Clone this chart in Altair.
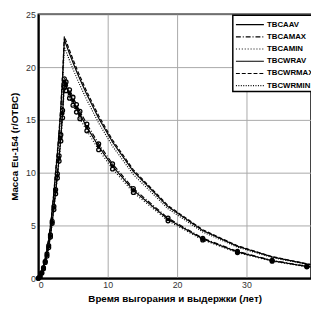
import altair as alt
import pandas as pd

times = [0, 0.25, 0.5, 0.75, 1.0, 1.25, 1.5, 1.75, 2.0, 2.25, 2.5, 2.75, 3.0, 3.25, 3.5, 3.75,
         4.0, 4.5, 5.0, 5.5, 6.0, 7.0, 8.7, 10.7, 13.7, 18.7, 23.7, 28.7, 33.7, 38.7, 39.2]

tbcaav = [0, 0.16, 0.5, 1.0, 1.6, 2.2, 3.0, 4.0, 5.3, 6.7, 8.2, 9.7, 11.4, 13.3, 15.6, 18.6,
          18.23, 17.50, 16.81, 16.14, 15.51, 14.32, 12.48, 10.62, 8.33, 5.58, 3.72, 2.49, 1.66, 1.11, 1.07]
tbcamax = [0, 0.16, 0.5, 1.0, 1.6, 2.3, 3.1, 4.1, 5.4, 6.8, 8.4, 9.9, 11.6, 13.6, 15.9, 18.9,
           18.6, 17.85, 17.15, 16.46, 15.82, 14.61, 12.73, 10.83, 8.50, 5.69, 3.79, 2.54, 1.69, 1.13, 1.09]
tbcamin = [0, 0.15, 0.5, 0.9, 1.5, 2.1, 2.9, 3.9, 5.2, 6.5, 8.0, 9.5, 11.1, 13.0, 15.2, 18.1,
           17.77, 17.06, 16.39, 15.74, 15.12, 13.96, 12.17, 10.35, 8.12, 5.44, 3.63, 2.43, 1.62, 1.08, 1.04]
tbcwrav = [0, 0.2, 0.6, 1.2, 1.9, 2.7, 3.7, 4.9, 6.4, 8.1, 10.0, 11.8, 13.8, 16.1, 19.0, 22.6,
           22.15, 21.27, 20.43, 19.62, 18.85, 17.40, 15.16, 12.90, 10.12, 6.78, 4.52, 3.03, 2.02, 1.35, 1.30]
tbcwrmax = [0, 0.2, 0.6, 1.2, 1.9, 2.8, 3.8, 5.0, 6.5, 8.2, 10.2, 12.0, 14.0, 16.4, 19.3, 22.9,
            22.48, 21.59, 20.74, 19.91, 19.13, 17.66, 15.39, 13.09, 10.27, 6.88, 4.59, 3.08, 2.05, 1.37, 1.32]
tbcwrmin = [0, 0.2, 0.6, 1.1, 1.8, 2.6, 3.6, 4.8, 6.2, 7.9, 9.7, 11.4, 13.4, 15.6, 18.4, 21.9,
            21.49, 20.63, 19.82, 19.03, 18.28, 16.88, 14.71, 12.51, 9.82, 6.58, 4.38, 2.94, 1.96, 1.31, 1.26]

series_names = ["TBCAAV", "TBCAMAX", "TBCAMIN", "TBCWRAV", "TBCWRMAX", "TBCWRMIN"]
series_vals = [tbcaav, tbcamax, tbcamin, tbcwrav, tbcwrmax, tbcwrmin]
dashes = [[1, 0], [5, 2, 1, 2], [1, 2], [1, 0], [4, 2], [1, 1.5]]
marker_times = [0, 0.25, 0.5, 0.75, 1.0, 1.25, 1.5, 1.75, 2.0, 2.25, 2.5, 2.75, 3.0, 3.25, 3.5, 3.75,
                4.0, 4.5, 5.0, 5.5, 6.0, 7.0, 8.7, 10.7, 13.7, 18.7, 23.7, 28.7, 33.7, 38.7]

rows = []
for name, vals in zip(series_names, series_vals):
    for t, v in zip(times, vals):
        rows.append({"t": t, "v": v, "series": name, "marker": t in marker_times})
df = pd.DataFrame(rows)

base = alt.Chart(df)

lines = base.mark_line(strokeWidth=1.2, color="black").encode(
    x=alt.X("t:Q", scale=alt.Scale(domain=[0, 39.3], nice=False),
            axis=alt.Axis(values=[0, 5, 10, 15, 20, 25, 30, 35], title="Время выгорания и выдержки (лет)")),
    y=alt.Y("v:Q", scale=alt.Scale(domain=[0, 25], nice=False),
            axis=alt.Axis(values=[0, 5, 10, 15, 20, 25], title="Масса Eu-154 (г/ОТВС)")),
    strokeDash=alt.StrokeDash("series:N", scale=alt.Scale(domain=series_names, range=dashes),
                              legend=alt.Legend(title=None)),
    detail="series:N",
)

pts_filled = base.transform_filter(
    (alt.datum.series == "TBCAAV") & alt.datum.marker
).mark_point(filled=True, color="black", size=16, opacity=1).encode(x="t:Q", y="v:Q")

pts_open = base.transform_filter(
    ((alt.datum.series == "TBCAMAX") | (alt.datum.series == "TBCAMIN")) & alt.datum.marker
).mark_point(filled=False, color="black", size=16, strokeWidth=1.3, opacity=1).encode(x="t:Q", y="v:Q")

chart = alt.layer(lines, pts_open, pts_filled).properties(
    width=279, height=270,
    autosize=alt.AutoSizeParams(type="none"),
    padding={"left": 31, "top": 3, "right": 0, "bottom": 28},
).configure_view(
    stroke="black", strokeWidth=1.5
).configure_axis(
    grid=True, gridColor="#a8a8a8", gridWidth=1,
    domainColor="black", domainWidth=2,
    ticks=False,
    labelFont="Liberation Sans", labelFontSize=9, labelColor="#333333", labelPadding=3,
    titleFont="Liberation Sans", titleFontSize=10, titleFontWeight="bold", titleColor="black",
).configure_axisX(titlePadding=4).configure_axisY(titlePadding=6).configure_legend(
    orient="none", legendX=199, legendY=1,
    fillColor="white", strokeColor="black", strokeWidth=1.5, padding=2, rowPadding=0.5,
    labelFont="Liberation Sans", labelFontSize=8, labelFontWeight="bold", labelColor="black",
    symbolType="M-2.2,0L2.2,0", symbolSize=169, symbolStrokeWidth=1.2, symbolStrokeColor="black",
    symbolOffset=8, labelOffset=10, cornerRadius=0,
)

chart.save("out.html", embed_options={"renderer": "svg", "actions": False})
